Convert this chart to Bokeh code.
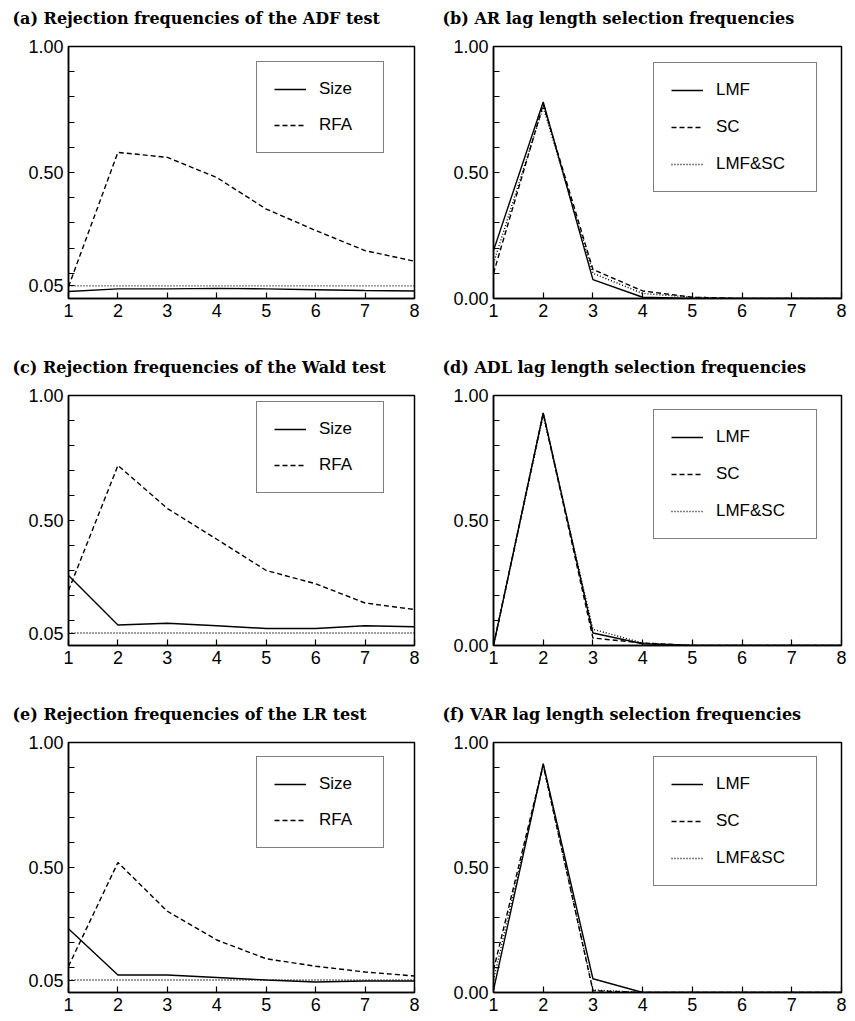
from bokeh.plotting import figure
from bokeh.layouts import column, row
from bokeh.models import Range1d, FixedTicker, Legend, LegendItem, Title
from bokeh.embed import file_html
from bokeh.resources import INLINE

# ---------------- data ----------------
lags = [1, 2, 3, 4, 5, 6, 7, 8]
nominal = [0.05, 0.05, 0.05, 0.05, 0.05, 0.05, 0.05, 0.05]

adf_size = [0.028, 0.038, 0.038, 0.040, 0.038, 0.035, 0.032, 0.030]
adf_rfa = [0.047, 0.58, 0.56, 0.48, 0.355, 0.27, 0.19, 0.148]

wald_size = [0.28, 0.082, 0.089, 0.079, 0.068, 0.068, 0.079, 0.075]
wald_rfa = [0.22, 0.72, 0.548, 0.425, 0.30, 0.247, 0.17, 0.144]

lr_size = [0.255, 0.07, 0.07, 0.06, 0.05, 0.042, 0.046, 0.046]
lr_rfa = [0.105, 0.52, 0.325, 0.21, 0.135, 0.105, 0.082, 0.066]

ar_lmf = [0.19, 0.78, 0.075, 0.005, 0.0, 0.0, 0.0, 0.0]
ar_sc = [0.10, 0.77, 0.115, 0.03, 0.005, 0.0, 0.0, 0.0]
ar_both = [0.14, 0.76, 0.10, 0.02, 0.005, 0.0, 0.0, 0.0]

adl_lmf = [0.0, 0.93, 0.05, 0.007, 0.0, 0.0, 0.0, 0.0]
adl_sc = [0.0, 0.93, 0.03, 0.01, 0.0, 0.0, 0.0, 0.0]
adl_both = [0.0, 0.92, 0.065, 0.01, 0.0, 0.0, 0.0, 0.0]

var_lmf = [0.01, 0.915, 0.055, 0.0, 0.0, 0.0, 0.0, 0.0]
var_sc = [0.09, 0.91, 0.007, 0.0, 0.0, 0.0, 0.0, 0.0]
var_both = [0.05, 0.91, 0.01, 0.0, 0.0, 0.0, 0.0, 0.0]

x_ticks = [1, 2, 3, 4, 5, 6, 7, 8]
left_y_ticks = [0.05, 0.1, 0.2, 0.3, 0.4, 0.5, 0.6, 0.7, 0.8, 0.9, 1.0]
left_y_labels = ["0.05", "", "", "", "", "0.50", "", "", "", "", "1.00"]
right_y_ticks = [0.0, 0.1, 0.2, 0.3, 0.4, 0.5, 0.6, 0.7, 0.8, 0.9, 1.0]
right_y_labels = ["0.00", "", "", "", "", "0.50", "", "", "", "", "1.00"]

titles = [
    "(a) Rejection frequencies of the ADF test",
    "(b) AR lag length selection frequencies",
    "(c) Rejection frequencies of the Wald test",
    "(d) ADL lag length selection frequencies",
    "(e) Rejection frequencies of the LR test",
    "(f) VAR lag length selection frequencies",
]
test_names = ["Size", "RFA"]
sel_names = ["LMF", "SC", "LMF&SC"]

DASH = {"solid": "solid", "dashed": "5 3", "dotted": "1 2"}
TICK_FONT = "Liberation Sans"
TITLE_FONT = "DejaVu Serif"


def make_panel(title, series, names, styles, legend_n, yticks, ylabels,
               width, height, bl, br, bt, bb, legend_xy, label_width,
               title_offset):
    p = figure(width=width, height=height, output_backend="svg",
               toolbar_location=None, x_range=Range1d(1, 8),
               y_range=Range1d(0, 1), min_border_left=bl,
               min_border_right=br, min_border_top=bt, min_border_bottom=bb)
    p.grid.visible = False
    p.outline_line_color = "black"
    p.outline_line_width = 1.5
    p.background_fill_color = "white"
    p.border_fill_color = "white"

    # spacer between frame and title (first added = closest to frame)
    p.add_layout(Title(text=" ", text_font_size="15px", standoff=0), "above")
    p.add_layout(Title(text=title, text_font=TITLE_FONT,
                       text_font_style="bold", text_font_size="16px",
                       text_color="black", align="left",
                       offset=title_offset, standoff=0), "above")

    for ax in (p.xaxis[0], p.yaxis[0]):
        ax.axis_line_width = 1.5
        ax.axis_line_color = "black"
        ax.major_tick_in = 6
        ax.major_tick_out = 0
        ax.minor_tick_line_color = None
        ax.major_label_text_font = TICK_FONT
        ax.major_label_text_font_size = "18px"
        ax.major_label_text_color = "black"
        ax.major_tick_line_color = "black"
        ax.major_tick_line_width = 1.2
        ax.major_label_standoff = 5
    p.xaxis.ticker = FixedTicker(ticks=x_ticks)
    p.yaxis.ticker = FixedTicker(ticks=yticks)
    p.yaxis.major_label_overrides = dict(zip(yticks, ylabels))

    items = []
    for i, (vals, style) in enumerate(zip(series, styles)):
        r = p.line(lags, vals, line_color="black", line_width=1.4,
                   line_dash=DASH[style])
        if i < legend_n:
            items.append(LegendItem(label=names[i], renderers=[r]))

    n = len(items)
    legend = Legend(items=items, location=legend_xy, margin=0,
                    border_line_color="black", border_line_width=1.5,
                    padding=17, spacing=16 if n == 2 else 17,
                    label_height=20, glyph_height=20, glyph_width=32,
                    label_standoff=13, label_width=label_width,
                    label_text_font=TICK_FONT, label_text_font_size="17px",
                    label_text_color="black",
                    background_fill_color="white", background_fill_alpha=1.0)
    p.add_layout(legend)
    return p


LW, RW = 428, 420
rows_h = [355, 347, 317]
rows_bt = [46, 38, 38]
rows_bb = [57, 57, 27]

left_series = [
    ([adf_size, adf_rfa, nominal], 145),
    ([wald_size, wald_rfa, nominal], 152),
    ([lr_size, lr_rfa, nominal], 144),
]
right_series = [
    [ar_lmf, ar_sc, ar_both],
    [adl_lmf, adl_sc, adl_both],
    [var_lmf, var_sc, var_both],
]

rows = []
for k in range(3):
    ls, ly = left_series[k]
    pl = make_panel(titles[2 * k], ls, test_names,
                    ["solid", "dashed", "dotted"], 2,
                    left_y_ticks, left_y_labels, LW, rows_h[k],
                    68, 14, rows_bt[k], rows_bb[k], (188, ly), 47, -56)
    pr = make_panel(titles[2 * k + 1], right_series[k], sel_names,
                    ["solid", "dashed", "dotted"], 3,
                    right_y_ticks, right_y_labels, RW, rows_h[k],
                    65, 7, rows_bt[k], rows_bb[k], (160, 106), 83, -51)
    rows.append(row(pl, pr))

layout = column(*rows)
open("out.html", "w").write(file_html(layout, INLINE))
